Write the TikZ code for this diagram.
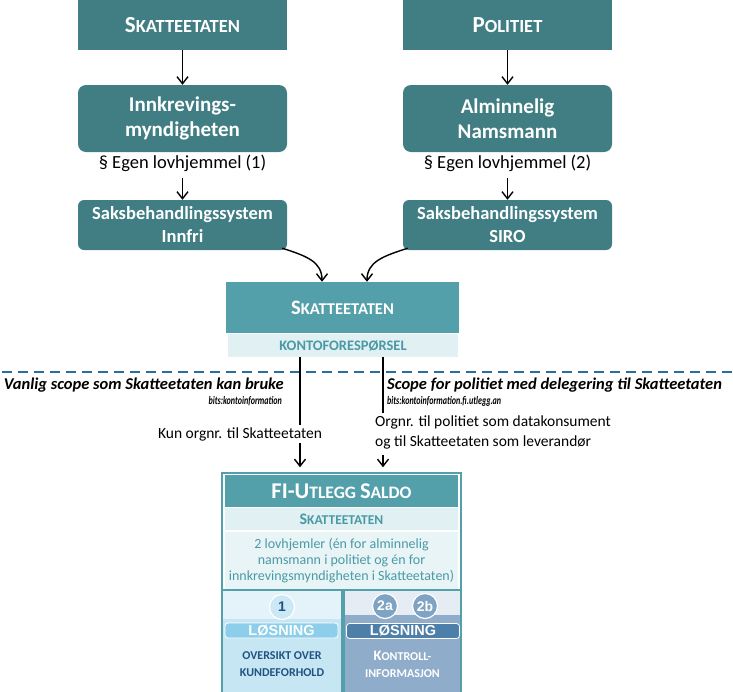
\documentclass[tikz,border=0pt]{standalone}
\usepackage{fontspec}
\setmainfont{Carlito}
\newfontfamily\arialf{Liberation Sans}
\newfontfamily\bitsf{Carlito}[FakeStretch=0.7]
\usetikzlibrary{arrows.meta}
\newcommand\fsz[1]{\fontsize{#1}{#1}\selectfont}
\newcommand\fszl[2]{\fontsize{#1}{#2}\selectfont}
\definecolor{tealdark}{RGB}{64,126,132}
\definecolor{tealmid}{RGB}{84,160,170}
\definecolor{teallight}{RGB}{224,240,243}
\definecolor{tealpale}{RGB}{232,244,246}
\definecolor{tealtext}{RGB}{74,154,165}
\definecolor{dashblue}{RGB}{40,110,160}
\definecolor{lbluepale}{RGB}{228,243,250}
\definecolor{lblueband}{RGB}{198,230,244}
\definecolor{lbluebar}{RGB}{141,207,234}
\definecolor{lbluecirc}{RGB}{205,232,245}
\definecolor{dblue}{RGB}{31,84,130}
\definecolor{gbpale}{RGB}{229,236,243}
\definecolor{gbband}{RGB}{143,172,202}
\definecolor{gbbar}{RGB}{78,127,168}
\definecolor{gbcirc}{RGB}{127,163,195}
\begin{document}
\begin{tikzpicture}[x=1pt,y=-1pt,
  topbox/.style={rectangle, fill=tealdark, text=white, font=\bfseries, minimum width=209pt, minimum height=50pt, inner sep=0},
  rbox/.style={rectangle, rounded corners=8pt, fill=tealdark, text=white, font=\fszl{21}{25}\bfseries, align=center, minimum width=209pt, minimum height=67pt, inner sep=0},
  sbox/.style={rectangle, rounded corners=6pt, fill=tealdark, text=white, font=\fszl{18.5}{23}\bfseries, align=center, minimum width=209pt, minimum height=50pt, inner sep=0},
  lov/.style={font=\fsz{18.5}, inner sep=0, minimum height=30pt},
  arr/.style={line width=1.4pt, -{Straight Barb[length=7pt,width=11pt,line width=1.4pt]}},
  conn/.style={line width=1.4pt},
  scopet/.style={font=\fsz{16.5}\bfseries\itshape, inner sep=0},
  bitst/.style={font=\bitsf\fsz{11.5}\bfseries\itshape, inner sep=0},
  lbl/.style={font=\fszl{15.5}{20}, inner sep=0},
  circ/.style={circle, draw=white, line width=1.2pt, minimum size=25pt, inner sep=0, font=\arialf\bfseries\fsz{14}},
  barbox/.style={rectangle, rounded corners=3pt, draw=white, line width=0.8pt, minimum height=15pt, inner sep=0, text=white, font=\arialf\bfseries\fsz{14.5}},
  ptext/.style={align=center, inner sep=0, font=\fszl{12}{17}\bfseries}
]
\useasboundingbox (0,0) rectangle (733,691);

% top row
\node[topbox] (sk) at (182.5,25) {\fsz{23}S\fsz{18.5}KATTEETATEN};
\node[topbox] (po) at (507.5,25) {\fsz{23}P\fsz{18.5}OLITIET};
\node[rbox] (ink) at (182.5,118.5) {Innkrevings-\\myndigheten};
\node[rbox] (alm) at (507.5,118.5) {Alminnelig\\Namsmann};
\node[lov] (lov1) at (182.5,163) {§ Egen lovhjemmel\hspace{4pt}(1)};
\node[lov] (lov2) at (507.5,163) {§ Egen lovhjemmel\hspace{4pt}(2)};
\node[sbox] (saks1) at (182.5,225) {Saksbehandlingssystem\\Innfri};
\node[sbox] (saks2) at (507.5,225) {Saksbehandlingssystem\\SIRO};

\draw[arr] (sk) -- (ink);
\draw[arr] (po) -- (alm);
\draw[arr] (lov1.south) -- (saks1.north);
\draw[arr] (lov2.south) -- (saks2.north);

% middle box
\node[fill=tealmid, text=white, font=\bfseries, minimum width=233pt, minimum height=51pt, inner sep=0] (skm) at (342.5,307.5) {\fsz{20.5}S\fsz{16.5}KATTEETATEN};
\node[fill=teallight, text=tealtext, font=\fsz{14.5}\bfseries, minimum width=230pt, minimum height=23pt, inner sep=0] (kf) at (343,345.5) {KONTOFORESPØRSEL};

\draw[arr] ([shift={(-5,-2)}]saks1.south east) .. controls +(25,8) and +(0,-20) .. ([xshift=-20.5pt]skm.north);
\draw[arr] ([shift={(5,-2)}]saks2.south west) .. controls +(-25,8) and +(0,-20) .. ([xshift=24.5pt]skm.north);

% dashed separator
\draw[dashblue, line width=1.2pt, dash pattern=on 10pt off 6pt] (2,372) -- (733,372);

% scope texts
\node[scopet, anchor=east] (vl) at (284,385) {Vanlig scope som Skatteetaten kan bruke};
\node[bitst, anchor=east] (b1) at (282,401) {bits:kontoinformation};
\node[scopet, anchor=west] (sp) at (387,385) {Scope for politiet med delegering til Skatteetaten};
\node[bitst, anchor=west] (b2) at (387,401) {bits:kontoinformation.fi.utlegg.an};
\node[lbl] (kun) at (240,434) {Kun orgnr. til Skatteetaten};
\node[lbl, anchor=west, align=left] (org) at (375,432) {Orgnr. til politiet som datakonsument\\og til Skatteetaten som leverandør};

% FI box
\node[draw=tealmid, line width=1.5pt, fill=white, minimum width=239pt, minimum height=230pt, inner sep=0] (fi) at (341.5,588) {};
\node[fill=tealmid, text=white, font=\bfseries, minimum width=233pt, minimum height=32pt, inner sep=0] (fih) at (341.5,491) {\fsz{22.5}FI-U\fsz{17.5}TLEGG \fsz{22.5}S\fsz{17.5}ALDO};
\node[fill=teallight, text=tealtext, font=\bfseries, minimum width=233pt, minimum height=22pt, inner sep=0] (fis) at (341.5,519) {\fsz{16}S\fsz{13.5}KATTEETATEN};
\node[fill=tealpale, text=tealtext, font=\fszl{14}{16.3}, align=center, minimum width=233pt, minimum height=58pt, inner sep=0] (fit) at (341.5,560.5) {2 lovhjemler (én for alminnelig\\namsmann i politiet og én for\\innkrevingsmyndigheten i Skatteetaten)};

% connectors into FI box
\coordinate (k1) at (300,425);
\coordinate (k2) at (383,413);
\coordinate (a1) at (300,443);
\coordinate (a2) at (383,455);
\draw[conn] (kf.south -| k1) -- (k1);
\draw[conn] (kf.south -| k2) -- (k2);
\draw[arr, shorten >=5pt] (a1) -- (fi.north -| a1);
\draw[arr, shorten >=5pt] (a2) -- (fi.north -| a2);

% panel 1
\node[draw=tealmid, line width=1.5pt, fill=lbluepale, minimum width=120pt, minimum height=110pt, inner sep=0] (p1) at (282,645) {};
\node[fill=lblueband, minimum width=118.5pt, minimum height=81pt, inner sep=0] (p1b) at (282,659) {};
\node[circ, fill=lbluecirc, text=dblue] (c1) at (282,607) {1};
\node[barbox, fill=lbluebar, minimum width=113pt] (l1) at (281.5,630.5) {LØSNING};
\node[ptext, text=dblue] (o1) at (282,664.5) {OVERSIKT OVER\\KUNDEFORHOLD};

% panel 2
\node[draw=tealmid, line width=1.5pt, fill=gbpale, minimum width=117pt, minimum height=110pt, inner sep=0] (p2) at (402.5,645) {};
\node[fill=gbband, minimum width=115.5pt, minimum height=85pt, inner sep=0] (p2b) at (402.5,657) {};
\node[circ, fill=gbcirc, text=white] (c2a) at (385,606) {2a};
\node[circ, fill=gbcirc, text=white] (c2b) at (425,606) {2b};
\node[barbox, fill=gbbar, minimum width=113pt] (l2) at (403,631) {LØSNING};
\node[ptext, text=white] (o2) at (402.5,664) {\fszl{14.5}{17}K\fszl{12}{17}ONTROLL-\\INFORMASJON};
\end{tikzpicture}
\end{document}
